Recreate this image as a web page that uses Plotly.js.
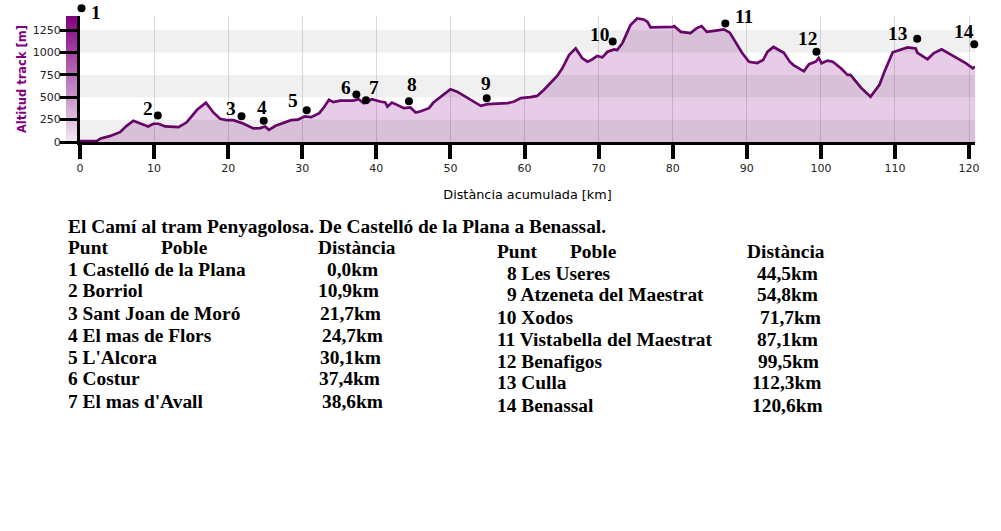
<!DOCTYPE html>
<html><head><meta charset="utf-8">
<script src="https://cdn.plot.ly/plotly-3.0.1.min.js"></script>
<style>html,body{margin:0;padding:0;background:#fff;}</style>
</head><body><div id="chart" style="width:1001px;height:531px;"></div>
<script>
// ---------- DATA ----------
const profileKm = [0, 2.3, 2.8, 4.0, 5.4, 6.3, 7.2, 8.1, 9.2, 9.9, 10.6, 11.5, 13.3, 14.4, 15.8, 17.0, 18.0, 18.9, 19.8, 20.7,
  22.1, 23.4, 24.3, 25.0, 25.5, 26.4, 27.6, 28.5, 29.4, 30.3, 31.2, 32.3, 33.0, 33.6, 34.2, 35.1, 36.9, 37.6, 38.3, 38.7,
  39.4, 40.5, 41.2, 41.5, 42.1, 42.8, 43.7, 44.6, 45.3, 45.9, 47.1, 47.7, 48.9, 50.0, 50.9, 52.7, 54.1, 55.0, 57.7, 58.6,
  59.5, 60.8, 61.7, 62.6, 63.5, 64.4, 65.1, 66.0, 66.9, 67.8, 68.5, 69.1, 69.8, 70.5, 71.2, 72.1, 72.5, 73.2, 74.3, 75.2,
  76.1, 76.6, 77.0, 78.1, 78.8, 80.0, 80.2, 81.1, 82.4, 83.2, 83.9, 84.6, 85.8, 86.9, 87.7, 88.5, 89.4, 90.3, 91.4, 92.2,
  92.8, 93.6, 95.0, 95.8, 96.3, 97.7, 98.4, 99.3, 99.7, 100.1, 100.9, 101.6, 102.7, 103.6, 104.0, 105.4, 106.7, 107.9, 108.6, 109.7,
  110.6, 111.7, 112.8, 113.0, 114.4, 115.2, 116.3, 117.6, 118.7, 119.6, 120.5, 120.8];
const profileAlt = [10, 12, 40, 65, 110, 180, 237, 205, 174, 204, 204, 174, 167, 220, 360, 440, 330, 260, 244, 244,
  204, 152, 156, 174, 135, 181, 215, 244, 250, 285, 278, 323, 396, 471, 445, 463, 463, 478, 434, 452,
  478, 452, 441, 396, 441, 415, 378, 386, 330, 341, 378, 441, 515, 590, 563, 478, 404, 423, 434, 452,
  490, 501, 515, 582, 663, 738, 824, 972, 1046, 935, 897, 920, 961, 946, 1009, 1035, 1028, 1102, 1306, 1380,
  1369, 1342, 1280, 1280, 1287, 1287, 1295, 1231, 1218, 1270, 1295, 1231, 1245, 1258, 1222, 1110, 991, 897, 883, 916,
  1009, 1062, 997, 897, 860, 790, 870, 897, 940, 880, 910, 897, 824, 749, 749, 607, 505, 638, 790, 1003,
  1027, 1057, 1046, 1000, 924, 991, 1035, 972, 916, 879, 824, 842];

const puntNumbers = [1, 2, 3, 4, 5, 6, 7, 8, 9, 10, 11, 12, 13, 14];
const pobles = ['Castelló de la Plana', 'Borriol', 'Sant Joan de Moró', 'El mas de Flors', "L'Alcora", 'Costur', "El mas d'Avall",
  'Les Useres', 'Atzeneta del Maestrat', 'Xodos', 'Vistabella del Maestrat', 'Benafigos', 'Culla', 'Benassal'];
const distancies = ['0,0km', '10,9km', '21,7km', '24,7km', '30,1km', '37,4km', '38,6km',
  '44,5km', '54,8km', '71,7km', '87,1km', '99,5km', '112,3km', '120,6km'];
const markerKm = [0.2, 10.5, 21.8, 24.8, 30.6, 37.3, 38.6, 44.4, 54.9, 71.9, 87.1, 99.4, 113.0, 120.7];
const markerAlt = [1495, 296, 289, 237, 356, 530, 467, 456, 490, 1124, 1325, 1008, 1153, 1091];

const xTicks = [0, 10, 20, 30, 40, 50, 60, 70, 80, 90, 100, 110, 120];
const yTicks = [0, 250, 500, 750, 1000, 1250];
const xMax = 120.8, yMax = 1408;

const tableTitle = 'El Camí al tram Penyagolosa. De Castelló de la Plana a Benassal.';
const headPunt = 'Punt', headPoble = 'Poble', headDist = 'Distància';

// ---------- LAYOUT GEOMETRY ----------
const W = 1001, H = 531;
const M = {l: 80, r: 26, t: 0, b: 389};
const plotW = W - M.l - M.r, paperH = H - M.t - M.b;   // 895 x 142
const plotTopPx = 16;                                    // top of the main plot area
const yDomTop = (paperH - plotTopPx) / paperH;
const pxX = x => (x - M.l) / plotW;
const pxY = y => (M.t + paperH - y) / paperH;

// label offsets (px) relative to dots
const labelDx = [15, -10, -11, -2, -14, -10, 8, 3, -1, -13, 19, -9, -19, -10];
const labelDy = [-4, 7, 8, 13, 10, 7, 13, 17, 15, 7, 7, 13, 5, 13];

// table positions (px)
const leftRows = 7;
const tTitleY = 226;
const leftHeadY = 247, rightHeadY = 251, rowStep = 22;
const leftCols = {punt: 66, poble: 159, dist: 316};
const rightCols = {punt: 495, poble: 568, dist: 745};
const nameX = [66, 66, 66, 66, 66, 66, 66, 505, 505, 495, 495, 495, 495, 495];
const distX = [325, 316, 318, 320, 318, 317, 320, 755, 755, 758, 755, 756, 750, 750];

const serif = {family: 'Liberation Serif, Times New Roman, serif', size: 19.4, color: '#000', weight: 'bold'};

// ---------- TRACES ----------
const traces = [
  {
    x: profileKm, y: profileAlt, type: 'scatter', mode: 'lines',
    xaxis: 'x', yaxis: 'y',
    line: {color: '#6a066c', width: 2.7},
    fill: 'tozeroy', fillcolor: 'rgba(128,0,128,0.2)',
    hoverinfo: 'skip'
  },
  {
    x: markerKm, y: markerAlt, type: 'scatter', mode: 'markers',
    xaxis: 'x2', yaxis: 'y2',
    marker: {color: '#000', size: 8},
    cliponaxis: false, hoverinfo: 'skip'
  }
];

// ---------- SHAPES ----------
const shapes = [];
// gradient bar left of y axis
const NSTRIP = 63;
const gradTop = [128, 0, 128], gradBot = [244, 232, 244];
for (let i = 0; i < NSTRIP; i++) {
  const f = (i + 0.5) / NSTRIP;
  const c = gradTop.map((t, k) => Math.round(gradBot[k] + (t - gradBot[k]) * f));
  shapes.push({type: 'rect', xref: 'paper', yref: 'paper', x0: -14 / plotW, x1: 0,
    y0: yDomTop * i / NSTRIP, y1: Math.min(yDomTop, yDomTop * (i + 1) / NSTRIP + 0.002),
    fillcolor: `rgb(${c[0]},${c[1]},${c[2]})`, line: {width: 0}, layer: 'below'});
}
// alternating bands
for (let i = 0; i + 1 < yTicks.length; i += 2) {
  shapes.push({type: 'rect', xref: 'paper', yref: 'y', x0: 0, x1: 1, y0: yTicks[i], y1: yTicks[i + 1],
    fillcolor: 'rgba(0,0,0,0.06)', line: {width: 0}, layer: 'above'});
}

// ---------- ANNOTATIONS ----------
const annotations = [];
puntNumbers.forEach((n, i) => {
  annotations.push({xref: 'x2', yref: 'y2', x: markerKm[i], y: markerAlt[i],
    text: String(n), showarrow: false, xanchor: 'center', yanchor: 'middle',
    xshift: labelDx[i], yshift: labelDy[i], font: serif});
});
function txt(text, x, y) {
  annotations.push({xref: 'paper', yref: 'paper', x: pxX(x), y: pxY(y), text: text, showarrow: false,
    xanchor: 'left', yanchor: 'middle', font: serif});
}
txt(tableTitle, leftCols.punt, tTitleY);
txt(headPunt, leftCols.punt, leftHeadY);
txt(headPoble, leftCols.poble, leftHeadY);
txt(headDist, leftCols.dist, leftHeadY);
txt(headPunt, rightCols.punt, rightHeadY);
txt(headPoble, rightCols.poble, rightHeadY);
txt(headDist, rightCols.dist, rightHeadY);
puntNumbers.forEach((n, i) => {
  const y = i < leftRows ? leftHeadY + rowStep * (i + 1) : rightHeadY + rowStep * (i - leftRows + 1);
  txt(n + ' ' + pobles[i], nameX[i], y);
  txt(distancies[i], distX[i], y);
});

// ---------- LAYOUT ----------
const tickFont = {family: 'DejaVu Sans, Verdana, sans-serif', size: 11, color: '#222'};
const layout = {
  width: W, height: H, margin: M,
  paper_bgcolor: '#fff', plot_bgcolor: 'rgba(0,0,0,0)',
  showlegend: false, hovermode: false,
  xaxis: {
    domain: [0, 1], anchor: 'y',
    range: [0, xMax], tickvals: xTicks, ticks: 'outside', ticklen: 14, tickwidth: 4, tickcolor: '#000',
    showline: true, linecolor: '#000', linewidth: 3, showgrid: true, gridcolor: '#dcdcdc', gridwidth: 1,
    zeroline: false, tickfont: tickFont, fixedrange: true,
    title: {text: 'Distància acumulada [km]', standoff: 16,
      font: {family: 'DejaVu Sans, Verdana, sans-serif', size: 12.8, color: '#000'}}
  },
  yaxis: {
    domain: [0, yDomTop], anchor: 'x',
    range: [0, yMax], tickvals: yTicks, ticks: 'outside', ticklen: 17, tickwidth: 3, tickcolor: '#000',
    ticklabelstandoff: -3,
    showline: true, linecolor: '#000', linewidth: 3, showgrid: false, zeroline: false,
    tickfont: tickFont, fixedrange: true,
    title: {text: 'Altitud track [m]', standoff: 4,
      font: {family: 'DejaVu Sans, Verdana, sans-serif', size: 11.5, color: '#800080', weight: 'bold'}}
  },
  xaxis2: {domain: [0, 1], anchor: 'y2', range: [0, xMax], visible: false, fixedrange: true},
  yaxis2: {domain: [0, 1], anchor: 'x2', range: [0, yMax / yDomTop], visible: false, fixedrange: true},
  shapes: shapes,
  annotations: annotations
};

Plotly.newPlot('chart', traces, layout, {displayModeBar: false, staticPlot: true});
</script>
</body></html>
